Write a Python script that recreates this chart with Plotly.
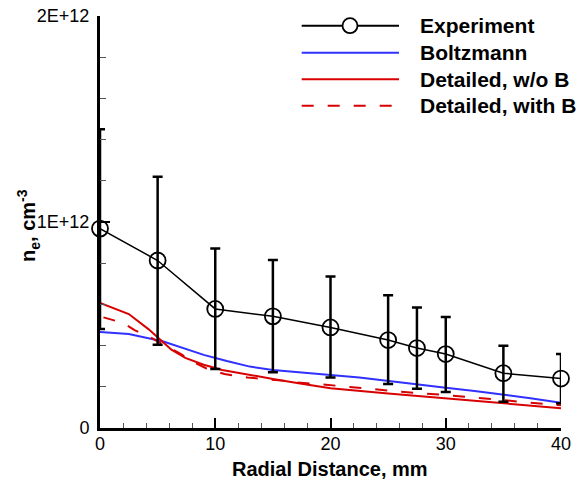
import plotly.graph_objects as go

# ---------------- data (values in units of 1E+12 cm^-3) ----------------
exp_x = [0, 5, 10, 15, 20, 25, 27.5, 30, 35, 40]
exp_y = [0.968, 0.813, 0.578, 0.542, 0.488, 0.427, 0.388, 0.359, 0.266, 0.240]
exp_hi = [1.45, 1.22, 0.871, 0.816, 0.735, 0.644, 0.585, 0.539, 0.399, 0.359]
exp_lo = [0.48, 0.404, 0.287, 0.271, 0.245, 0.213, 0.191, 0.175, 0.128, 0.120]

boltz_x = [0, 2.5, 5.5, 7, 9, 11, 13, 15, 17.5, 20, 22.5, 25, 27.5, 30, 32.5, 35, 37.5, 40]
boltz_y = [0.466, 0.456, 0.42, 0.393, 0.355, 0.325, 0.298, 0.282, 0.268, 0.257, 0.245,
           0.228, 0.209, 0.195, 0.18, 0.163, 0.143, 0.123]

det_x = [0, 2.5, 4.2, 5.4, 6.2, 7.4, 9, 10.6, 12.5, 15, 17.5, 20, 25, 27.5, 30, 35, 40]
det_y = [0.607, 0.553, 0.48, 0.42, 0.38, 0.34, 0.307, 0.282, 0.262, 0.238, 0.215, 0.193,
         0.168, 0.156, 0.144, 0.121, 0.096]

detb_x = [0.3, 2, 3, 4.4, 5.5, 7, 8, 9.2, 10.8, 12.8, 15.8, 17, 19.6, 22.5, 27.5, 30, 34.5, 37.5, 40]
detb_y = [0.537, 0.51, 0.475, 0.44, 0.404, 0.36, 0.323, 0.29, 0.262, 0.245, 0.23, 0.222,
          0.21, 0.195, 0.169, 0.16, 0.136, 0.123, 0.11]

y_tickvals = [0, 1, 2]
y_ticktext = ["0", "1E+12", "2E+12"]
x_tickvals = [0, 10, 20, 30, 40]
x_ticktext = ["0", "10", "20", "30", "40"]

legend_names = ["Experiment", "Boltzmann", "Detailed, w/o B", "Detailed, with B"]

SCALE = 1e12
BLUE = "#3030ff"
RED = "#d80000"
FONT = "Liberation Sans, Arial, sans-serif"

W, H = 582, 485
ML, MR, MT, MB = 100, 21, 16, 57
PW, PH = W - ML - MR, H - MT - MB


def px(xpix):
    return (xpix - ML) / PW


def py(ypix):
    return (H - MB - ypix) / PH


fig = go.Figure()

fig.add_trace(go.Scatter(
    x=boltz_x, y=[v * SCALE for v in boltz_y], mode="lines",
    line=dict(color=BLUE, width=2), name=legend_names[1], showlegend=False))
fig.add_trace(go.Scatter(
    x=det_x, y=[v * SCALE for v in det_y], mode="lines",
    line=dict(color=RED, width=2), name=legend_names[2], showlegend=False))
fig.add_trace(go.Scatter(
    x=detb_x, y=[v * SCALE for v in detb_y], mode="lines",
    line=dict(color=RED, width=2, dash="12px,14px"), name=legend_names[3], showlegend=False))
fig.add_trace(go.Scatter(
    x=exp_x, y=[v * SCALE for v in exp_y], mode="lines+markers",
    line=dict(color="black", width=1.5),
    marker=dict(symbol="circle-open", size=16, color="black", line=dict(width=1.8, color="black")),
    error_y=dict(type="data", symmetric=False,
                 array=[(h - v) * SCALE for h, v in zip(exp_hi, exp_y)],
                 arrayminus=[(v - l) * SCALE for v, l in zip(exp_y, exp_lo)],
                 color="black", thickness=2.5, width=5),
    cliponaxis=False, name=legend_names[0], showlegend=False))

fig.update_xaxes(
    range=[0, 40], tickvals=x_tickvals, ticktext=x_ticktext,
    ticks="inside", ticklen=10, tickwidth=2, tickcolor="black",
    minor=dict(dtick=2, ticks="inside", ticklen=5, tickwidth=1, tickcolor="#555555"),
    showline=True, linewidth=3, linecolor="black", mirror=False,
    showgrid=False, zeroline=False,
    tickfont=dict(family=FONT, size=18, color="black"), ticklabelstandoff=-3)
fig.update_yaxes(
    range=[0, 2 * SCALE], tickvals=[v * SCALE for v in y_tickvals], ticktext=y_ticktext,
    ticks="inside", ticklen=10, tickwidth=2, tickcolor="black",
    minor=dict(dtick=0.2 * SCALE, ticks="inside", ticklen=6, tickwidth=1, tickcolor="#555555"),
    showline=True, linewidth=3, linecolor="black", mirror=False,
    showgrid=False, zeroline=False,
    tickfont=dict(family=FONT, size=18, color="black"), ticklabelstandoff=4)

shapes = []
annotations = []

# legend (drawn manually to match long line samples)
rows = [25.7, 52.7, 79.3, 105.7]
styles = [("black", None, 2), (BLUE, None, 2), (RED, None, 2), (RED, "dash", 2)]
for name, ry, (col, dash, lw) in zip(legend_names, rows, styles):
    line = dict(color=col, width=lw)
    if dash:
        line["dash"] = "12px,14px"
    shapes.append(dict(type="line", xref="paper", yref="paper",
                       x0=px(301.7), x1=px(399), y0=py(ry), y1=py(ry), line=line))
    annotations.append(dict(text=f"<b>{name}</b>", xref="paper", yref="paper",
                            x=px(418), y=py(ry), xanchor="left", yanchor="middle",
                            showarrow=False,
                            font=dict(family=FONT, size=21, color="black")))
shapes.append(dict(type="circle", xref="paper", yref="paper",
                   xsizemode="pixel", ysizemode="pixel",
                   xanchor=px(350), yanchor=py(rows[0]),
                   x0=-7.5, x1=7.5, y0=-7.5, y1=7.5,
                   fillcolor="white", line=dict(color="black", width=1.8)))

# axis titles
annotations.append(dict(text="<b>Radial Distance, mm</b>", xref="paper", yref="paper",
                        x=px(330), y=py(469), xanchor="center", yanchor="middle",
                        showarrow=False, font=dict(family=FONT, size=20, color="black")))
annotations.append(dict(text="<b>n<sub>e</sub>, cm<sup>-3</sup></b>", xref="paper", yref="paper",
                        x=px(28), y=py(226), xanchor="center", yanchor="middle",
                        textangle=-90, showarrow=False,
                        font=dict(family=FONT, size=20, color="black")))

fig.update_layout(
    width=W, height=H,
    margin=dict(l=ML, r=MR, t=MT, b=MB, autoexpand=False),
    paper_bgcolor="white", plot_bgcolor="white",
    showlegend=False, shapes=shapes, annotations=annotations,
    font=dict(family=FONT, color="black"))

fig.write_html("out.html")
